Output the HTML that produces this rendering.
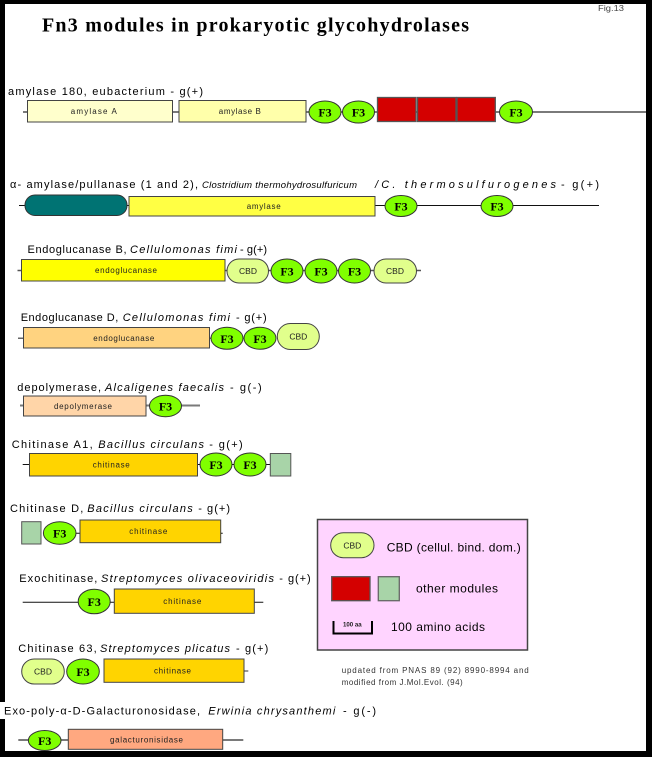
<!DOCTYPE html>
<html><head><meta charset="utf-8"><style>
html,body{margin:0;padding:0;background:#000;}
svg{display:block;}
.l{font-family:"Liberation Sans",sans-serif;font-size:11px;fill:#000;}
.i{font-style:italic;}
.b{font-family:"Liberation Sans",sans-serif;font-size:8px;fill:#222;}
.c{font-family:"Liberation Sans",sans-serif;font-size:8.5px;fill:#222;}
.f{font-family:"Liberation Serif",serif;font-weight:bold;font-size:12px;fill:#000;}
.box{stroke:#444;stroke-width:1;}
.e{fill:#80ff00;stroke:#333;stroke-width:1;}
</style></head><body>
<svg width="652" height="757" viewBox="0 0 652 757" xmlns="http://www.w3.org/2000/svg">
<rect x="0" y="0" width="652" height="757" fill="#000"/>
<rect x="5" y="4" width="641" height="747" fill="#fff"/>
<rect x="0" y="702" width="6" height="17" fill="#fff"/>

<text x="598" y="11" style="font-family:'Liberation Sans',sans-serif;font-size:8px;fill:#444" textLength="26" lengthAdjust="spacingAndGlyphs">Fig.13</text>
<text x="42" y="31.7" style="font-family:'Liberation Serif',serif;font-weight:bold;font-size:20px" textLength="427" lengthAdjust="spacing">Fn3 modules in prokaryotic glycohydrolases</text>

<!-- Row 1 -->
<text class="l" x="8" y="95" textLength="195" lengthAdjust="spacing">amylase 180, eubacterium  - g(+)</text>
<line x1="23" y1="112" x2="646" y2="112" stroke="#7a7a7a" stroke-width="2"/>
<rect class="box" x="27.5" y="100.5" width="145" height="21.5" fill="#ffffcc"/>
<text class="b" x="70.8" y="114" textLength="46" lengthAdjust="spacing">amylase A</text>
<rect class="box" x="179" y="100.5" width="127" height="21.5" fill="#ffffaa"/>
<text class="b" x="218.8" y="114" textLength="42" lengthAdjust="spacing">amylase B</text>
<ellipse class="e" cx="325" cy="112" rx="16" ry="11"/><text class="f" x="325" y="116.5" text-anchor="middle">F3</text>
<ellipse class="e" cx="358.5" cy="112" rx="16" ry="11"/><text class="f" x="358.5" y="116.5" text-anchor="middle">F3</text>
<rect x="377.5" y="97.5" width="38.5" height="24" fill="#d40000" stroke="#555" stroke-width="1.3"/>
<rect x="417.5" y="97.5" width="38.5" height="24" fill="#d40000" stroke="#555" stroke-width="1.3"/>
<rect x="457" y="97.5" width="38.3" height="24" fill="#d40000" stroke="#555" stroke-width="1.3"/>
<ellipse class="e" cx="516" cy="112" rx="16.5" ry="11"/><text class="f" x="516" y="116.5" text-anchor="middle">F3</text>

<!-- Row 2 -->
<text class="l" x="10" y="188" textLength="188" lengthAdjust="spacing">α- amylase/pullanase  (1 and 2),</text>
<text class="l i" x="202" y="188" style="font-size:9.5px" textLength="155" lengthAdjust="spacing">Clostridium thermohydrosulfuricum</text>
<text class="l i" x="375" y="188" textLength="181" lengthAdjust="spacing">/C. thermosulfurogenes</text>
<text class="l" x="561" y="188" textLength="38" lengthAdjust="spacing">-  g(+)</text>
<line x1="19" y1="205.5" x2="599" y2="205.5" stroke="#111" stroke-width="1"/>
<rect x="25" y="195" width="102" height="20.5" rx="10" ry="10" fill="#007373" stroke="#333" stroke-width="1"/>
<rect class="box" x="129" y="196.5" width="246" height="19.5" fill="#ffff44"/>
<text class="b" x="246.7" y="209" textLength="34" lengthAdjust="spacing">amylase</text>
<ellipse class="e" cx="401" cy="206" rx="16" ry="10.5"/><text class="f" x="401" y="210.5" text-anchor="middle">F3</text>
<ellipse class="e" cx="497" cy="206" rx="16" ry="10.5"/><text class="f" x="497" y="210.5" text-anchor="middle">F3</text>

<!-- Row 3 -->
<text class="l" x="27.5" y="253" textLength="99" lengthAdjust="spacing">Endoglucanase B,</text>
<text class="l i" x="130" y="253" textLength="107" lengthAdjust="spacing">Cellulomonas fimi</text>
<text class="l" x="240" y="253" textLength="27" lengthAdjust="spacing">- g(+)</text>
<line x1="17.5" y1="270.5" x2="421" y2="270.5" stroke="#555" stroke-width="1.5"/>
<rect class="box" x="21.5" y="259.5" width="203.5" height="21.5" fill="#ffff00"/>
<text class="b" x="95" y="273" textLength="62" lengthAdjust="spacing">endoglucanase</text>
<rect x="227" y="259" width="41.5" height="24" rx="12" ry="12" fill="#e1ff8c" stroke="#444"/>
<text class="c" x="248" y="274" text-anchor="middle">CBD</text>
<ellipse class="e" cx="287" cy="271" rx="16" ry="12"/><text class="f" x="287" y="275.5" text-anchor="middle">F3</text>
<ellipse class="e" cx="321" cy="271" rx="16" ry="12"/><text class="f" x="321" y="275.5" text-anchor="middle">F3</text>
<ellipse class="e" cx="354.5" cy="271" rx="16" ry="12"/><text class="f" x="354.5" y="275.5" text-anchor="middle">F3</text>
<rect x="374" y="259" width="42.5" height="24" rx="12" ry="12" fill="#e1ff8c" stroke="#444"/>
<text class="c" x="395" y="274" text-anchor="middle">CBD</text>

<!-- Row 4 -->
<text class="l" x="20.7" y="321" textLength="97.6" lengthAdjust="spacing">Endoglucanase D,</text>
<text class="l i" x="122.7" y="321" textLength="107.3" lengthAdjust="spacing">Cellulomonas fimi</text>
<text class="l" x="236" y="321" textLength="30.7" lengthAdjust="spacing">- g(+)</text>
<line x1="18" y1="338.3" x2="211" y2="338.3" stroke="#666" stroke-width="1.5"/>
<rect class="box" x="23.5" y="327.5" width="186" height="20.5" fill="#ffd380"/>
<text class="b" x="93.3" y="341" textLength="61" lengthAdjust="spacing">endoglucanase</text>
<ellipse class="e" cx="227" cy="338.3" rx="16" ry="11"/><text class="f" x="227" y="342.8" text-anchor="middle">F3</text>
<ellipse class="e" cx="260" cy="338.3" rx="16" ry="11"/><text class="f" x="260" y="342.8" text-anchor="middle">F3</text>
<rect x="277.3" y="323.5" width="42" height="26" rx="13" ry="13" fill="#e1ff8c" stroke="#444"/>
<text class="c" x="298.3" y="339.5" text-anchor="middle">CBD</text>

<!-- Row 5 -->
<text class="l" x="17.3" y="391" textLength="83.7" lengthAdjust="spacing">depolymerase,</text>
<text class="l i" x="105" y="391" textLength="119" lengthAdjust="spacing">Alcaligenes faecalis</text>
<text class="l" x="230" y="391" textLength="31.7" lengthAdjust="spacing">- g(-)</text>
<line x1="20" y1="405.5" x2="200" y2="405.5" stroke="#7a7a7a" stroke-width="2"/>
<rect class="box" x="23.5" y="396" width="122.5" height="20" fill="#ffd5a8"/>
<text class="b" x="54" y="409" textLength="58" lengthAdjust="spacing">depolymerase</text>
<ellipse class="e" cx="165.5" cy="406" rx="16" ry="10.8"/><text class="f" x="165.5" y="410.5" text-anchor="middle">F3</text>

<!-- Row 6 -->
<text class="l" x="11.7" y="448" textLength="81" lengthAdjust="spacing">Chitinase A1,</text>
<text class="l i" x="98.3" y="448" textLength="105.7" lengthAdjust="spacing">Bacillus circulans</text>
<text class="l" x="209.3" y="448" textLength="33.4" lengthAdjust="spacing">- g(+)</text>
<line x1="22.7" y1="464.5" x2="270" y2="464.5" stroke="#111" stroke-width="1"/>
<rect class="box" x="29.5" y="453.5" width="168" height="22.5" fill="#ffd400"/>
<text class="b" x="92.7" y="467.5" textLength="37" lengthAdjust="spacing">chitinase</text>
<ellipse class="e" cx="216" cy="464.5" rx="16" ry="11.5"/><text class="f" x="216" y="469" text-anchor="middle">F3</text>
<ellipse class="e" cx="250" cy="464.5" rx="16" ry="11.5"/><text class="f" x="250" y="469" text-anchor="middle">F3</text>
<rect x="270.3" y="453.5" width="20.5" height="22.5" fill="#a8d4a8" stroke="#555" stroke-width="1"/>

<!-- Row 7 -->
<text class="l" x="10" y="512" textLength="73.3" lengthAdjust="spacing">Chitinase D,</text>
<text class="l i" x="87.3" y="512" textLength="105.4" lengthAdjust="spacing">Bacillus circulans</text>
<text class="l" x="198.3" y="512" textLength="31.7" lengthAdjust="spacing">- g(+)</text>
<line x1="76" y1="533.3" x2="222.7" y2="533.3" stroke="#111" stroke-width="1"/>
<rect x="21.7" y="521.7" width="19.3" height="22.3" fill="#a8d4a8" stroke="#555" stroke-width="1"/>
<ellipse class="e" cx="59.7" cy="533" rx="16.3" ry="11.3"/><text class="f" x="59.7" y="537.5" text-anchor="middle">F3</text>
<rect class="box" x="80" y="520" width="140.7" height="22.7" fill="#ffd400"/>
<text class="b" x="129.3" y="534" textLength="38" lengthAdjust="spacing">chitinase</text>

<!-- Row 8 -->
<text class="l" x="19.3" y="582" textLength="78" lengthAdjust="spacing">Exochitinase,</text>
<text class="l i" x="101" y="582" textLength="173" lengthAdjust="spacing">Streptomyces olivaceoviridis</text>
<text class="l" x="279.3" y="582" textLength="31.4" lengthAdjust="spacing">- g(+)</text>
<line x1="22.7" y1="602.3" x2="263.3" y2="602.3" stroke="#111" stroke-width="1"/>
<ellipse class="e" cx="94.2" cy="601.5" rx="16" ry="12.3"/><text class="f" x="94.2" y="606" text-anchor="middle">F3</text>
<rect class="box" x="114.3" y="589" width="140" height="24.3" fill="#ffd400"/>
<text class="b" x="163.3" y="604" textLength="38" lengthAdjust="spacing">chitinase</text>

<!-- Legend -->
<rect x="317.5" y="519.5" width="210" height="130.5" fill="#ffd4ff" stroke="#444" stroke-width="1.5"/>
<rect x="330.7" y="532.7" width="43.3" height="25" rx="12.5" ry="12.5" fill="#e1ff8c" stroke="#444"/>
<text class="c" x="352.3" y="548.5" text-anchor="middle">CBD</text>
<text class="l" x="386.7" y="551.7" style="font-size:12px" textLength="134" lengthAdjust="spacing">CBD (cellul. bind. dom.)</text>
<rect x="331.7" y="576.7" width="38.3" height="24" fill="#d40000" stroke="#555" stroke-width="1.3"/>
<rect x="378.3" y="576.7" width="21" height="24" fill="#a8d4a8" stroke="#666" stroke-width="1.3"/>
<text class="l" x="416" y="592.7" style="font-size:12px" textLength="82" lengthAdjust="spacing">other modules</text>
<path d="M333.5 621 V633.5 H372 V621" fill="none" stroke="#000" stroke-width="2"/>
<text x="343" y="626.7" style="font-family:'Liberation Sans',sans-serif;font-size:6px;font-weight:bold;fill:#222" textLength="18.7" lengthAdjust="spacingAndGlyphs">100 aa</text>
<text class="l" x="391" y="631" style="font-size:12px" textLength="94" lengthAdjust="spacing">100 amino acids</text>
<text x="341.7" y="673" style="font-family:'Liberation Sans',sans-serif;font-size:8px;fill:#333" textLength="187" lengthAdjust="spacing">updated from PNAS 89 (92) 8990-8994 and</text>
<text x="341.7" y="685" style="font-family:'Liberation Sans',sans-serif;font-size:8px;fill:#333" textLength="121" lengthAdjust="spacing">modified from J.Mol.Evol. (94)</text>

<!-- Row 9 -->
<text class="l" x="18.3" y="652" textLength="78.4" lengthAdjust="spacing">Chitinase 63,</text>
<text class="l i" x="100" y="652" textLength="130" lengthAdjust="spacing">Streptomyces plicatus</text>
<text class="l" x="236" y="652" textLength="32.3" lengthAdjust="spacing">- g(+)</text>
<line x1="240" y1="671" x2="248.3" y2="671" stroke="#777" stroke-width="1.5"/>
<rect x="21.7" y="659" width="42.6" height="25" rx="12.5" ry="12.5" fill="#e1ff8c" stroke="#444"/>
<text class="c" x="43" y="674.5" text-anchor="middle">CBD</text>
<ellipse class="e" cx="83" cy="671.5" rx="16.3" ry="12.5"/><text class="f" x="83" y="676" text-anchor="middle">F3</text>
<rect class="box" x="104" y="659" width="140" height="23.3" fill="#ffd400"/>
<text class="b" x="154" y="673.5" textLength="37" lengthAdjust="spacing">chitinase</text>

<!-- Row 10 -->
<text class="l" x="4" y="714.5" textLength="196" lengthAdjust="spacing">Exo-poly-α-D-Galacturonosidase,</text>
<text class="l i" x="208.3" y="714.5" textLength="127" lengthAdjust="spacing">Erwinia chrysanthemi</text>
<text class="l" x="343" y="714.5" textLength="33" lengthAdjust="spacing">- g(-)</text>
<line x1="18.3" y1="740" x2="243.3" y2="740" stroke="#7a7a7a" stroke-width="2"/>
<ellipse class="e" cx="44.7" cy="740.5" rx="16.3" ry="10"/><text class="f" x="44.7" y="745" text-anchor="middle">F3</text>
<rect class="box" x="68.3" y="729.3" width="154.4" height="20" fill="#ffa880"/>
<text class="b" x="110" y="742.5" textLength="73" lengthAdjust="spacing">galacturonisidase</text>
</svg>
</body></html>
